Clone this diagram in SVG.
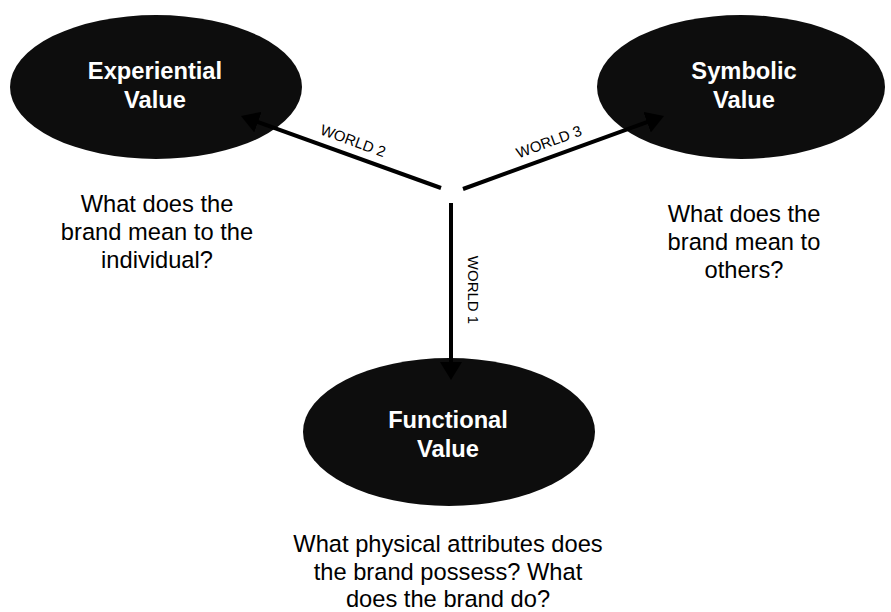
<svg xmlns="http://www.w3.org/2000/svg" width="891" height="612" viewBox="0 0 891 612">
  <style>
    .node { fill: #0d0d0d; }
    .title { font-family: "Liberation Sans", Arial, sans-serif; font-weight: bold; font-size: 23.7px; fill: #ffffff; text-anchor: middle; }
    .q { font-family: "Liberation Sans", Arial, sans-serif; font-size: 23.7px; fill: #000000; text-anchor: middle; }
    .lbl { font-family: "Liberation Sans", Arial, sans-serif; font-size: 15px; fill: #000000; text-anchor: middle; }
    .conn { stroke: #000000; stroke-width: 4; fill: none; marker-end: url(#arrow); }
  </style>
  <defs>
    <marker id="arrow" markerUnits="userSpaceOnUse" viewBox="0 0 18 22" markerWidth="18" markerHeight="22" refX="8" refY="11" orient="auto">
      <path d="M0,0 L18,11 L0,22 Z" fill="#000000"/>
    </marker>
  </defs>
  <rect width="891" height="612" fill="#ffffff"/>

  <g id="experiential">
    <ellipse class="node" cx="156" cy="87" rx="146" ry="72"/>
    <text class="title" x="155" y="79">Experiential</text>
    <text class="title" x="155" y="108">Value</text>
  </g>
  <g id="symbolic">
    <ellipse class="node" cx="741" cy="87" rx="144" ry="72"/>
    <text class="title" x="744" y="79">Symbolic</text>
    <text class="title" x="744" y="108">Value</text>
  </g>
  <g id="functional">
    <ellipse class="node" cx="449" cy="432" rx="146" ry="74"/>
    <text class="title" x="448" y="428">Functional</text>
    <text class="title" x="448" y="457">Value</text>
  </g>

  <g id="connectors">
    <line class="conn" x1="441" y1="188" x2="250.4" y2="119.4"/>
    <line class="conn" x1="463" y1="189" x2="654.6" y2="119.4"/>
    <line class="conn" x1="451" y1="203" x2="451" y2="370"/>
    <text class="lbl" transform="translate(353,141) rotate(20)" y="5">WORLD 2</text>
    <text class="lbl" transform="translate(549,142) rotate(-20)" y="5">WORLD 3</text>
    <text class="lbl" transform="translate(473,290) rotate(90)" y="5">WORLD 1</text>
  </g>

  <g id="question-experiential">
    <text class="q" x="157" y="212">What does the</text>
    <text class="q" x="157" y="240">brand mean to the</text>
    <text class="q" x="157" y="268">individual?</text>
  </g>
  <g id="question-symbolic">
    <text class="q" x="744" y="222">What does the</text>
    <text class="q" x="744" y="250">brand mean to</text>
    <text class="q" x="744" y="278">others?</text>
  </g>
  <g id="question-functional">
    <text class="q" x="448" y="552">What physical attributes does</text>
    <text class="q" x="448" y="580">the brand possess? What</text>
    <text class="q" x="448" y="607">does the brand do?</text>
  </g>
</svg>
